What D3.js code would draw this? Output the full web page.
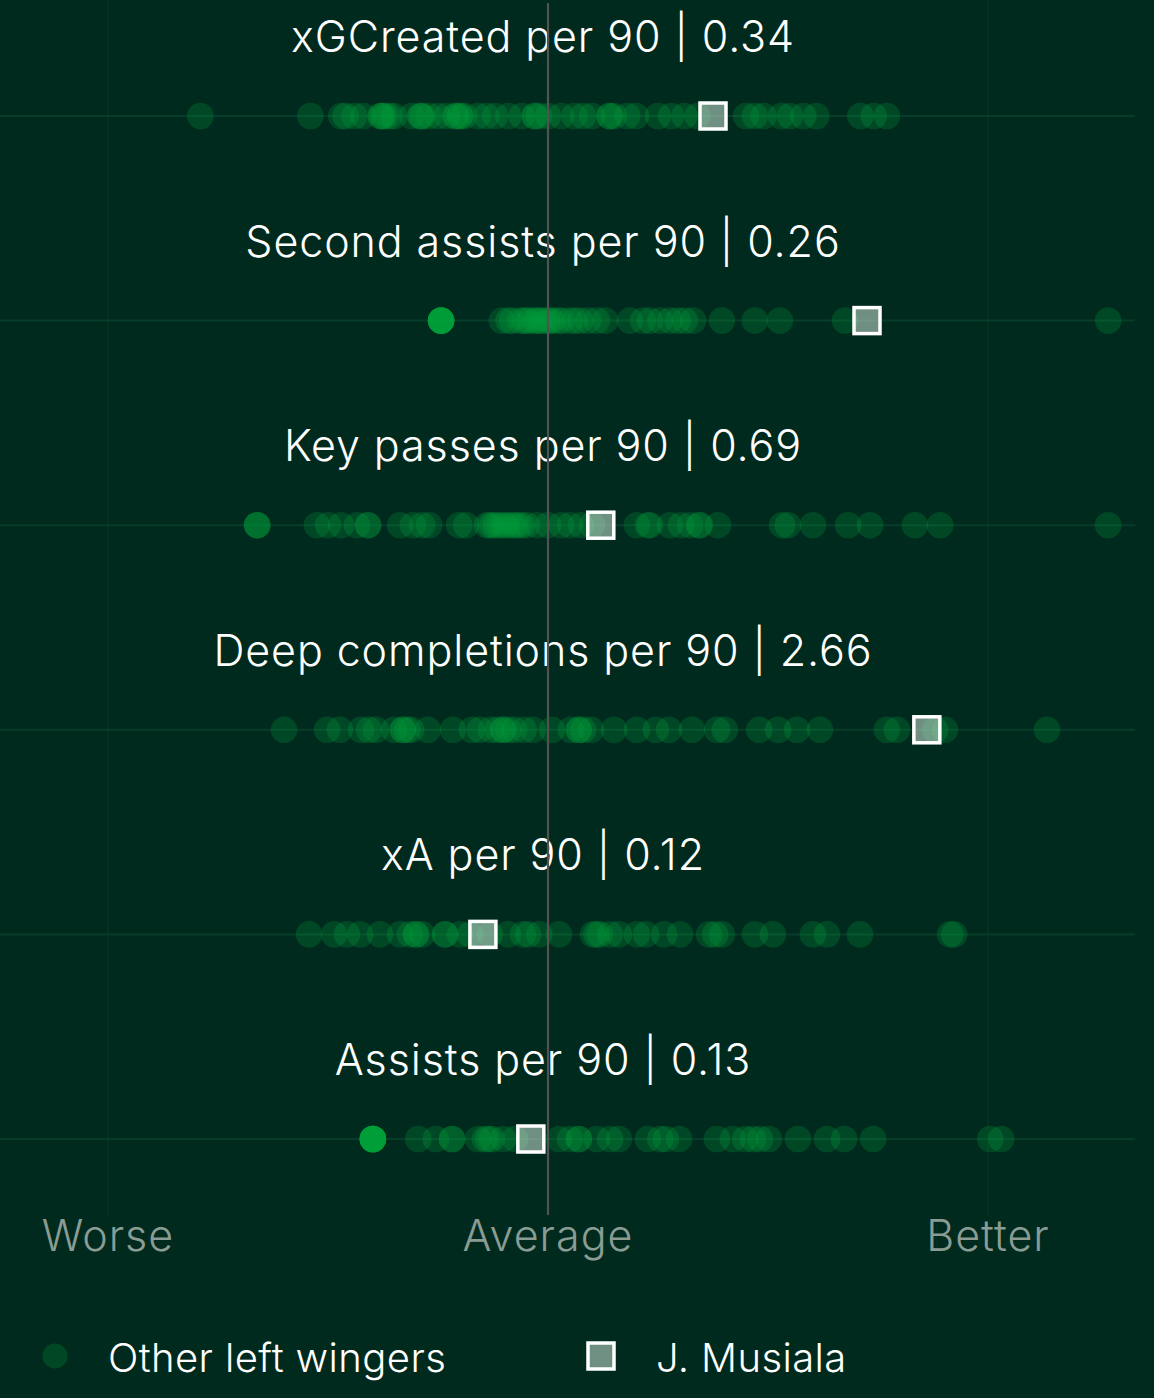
<!DOCTYPE html>
<html>
<head>
<meta charset="utf-8">
<script src="https://cdn.jsdelivr.net/npm/d3@7"></script>
<style>
  html, body { margin: 0; padding: 0; background: #002a1e; }
  svg { display: block; }
</style>
</head>
<body>
<svg id="chart" width="1154" height="1398"></svg>
<script>
// ---- Data (normalised scores: -1 = worse, 0 = average, +1 = better) ----
const metrics = [
  "xGCreated per 90",
  "Second assists per 90",
  "Key passes per 90",
  "Deep completions per 90",
  "xA per 90",
  "Assists per 90"
];
const musialaRaw = ["0.34", "0.26", "0.69", "2.66", "0.12", "0.13"];
const musialaScore = [0.375, 0.725, 0.12, 0.861, -0.148, -0.039];

const xgCreated = [-0.79, -0.54, -0.47, -0.46, -0.44, -0.42, -0.38, -0.38, -0.375, -0.37, -0.36, -0.35, -0.31, -0.29, -0.29, -0.285, -0.27, -0.25, -0.23, -0.21, -0.21, -0.2, -0.2, -0.19, -0.16, -0.14, -0.12, -0.09, -0.06, -0.03, -0.03, -0.02, 0, 0.03, 0.06, 0.08, 0.1, 0.14, 0.14, 0.15, 0.18, 0.2, 0.25, 0.28, 0.31, 0.34, 0.45, 0.47, 0.49, 0.53, 0.55, 0.58, 0.61, 0.71, 0.74, 0.77];
const secondAssists = [-0.243, -0.243, -0.243, -0.243, -0.243, -0.243, -0.243, -0.243, -0.243, -0.243, -0.105, -0.09, -0.082, -0.064, -0.055, -0.048, -0.041, -0.03, -0.025, -0.018, -0.01, -0.002, 0.005, 0.011, 0.023, 0.032, 0.05, 0.061, 0.073, 0.091, 0.111, 0.13, 0.186, 0.216, 0.232, 0.255, 0.277, 0.295, 0.311, 0.33, 0.395, 0.47, 0.527, 0.675, 1.273];
const keyPasses = [-0.661, -0.661, -0.661, -0.525, -0.5, -0.47, -0.434, -0.409, -0.409, -0.336, -0.307, -0.286, -0.27, -0.202, -0.186, -0.139, -0.132, -0.125, -0.118, -0.109, -0.1, -0.093, -0.082, -0.075, -0.068, -0.059, -0.048, -0.025, 0, 0.03, 0.05, 0.075, 0.1, 0.202, 0.227, 0.232, 0.277, 0.302, 0.323, 0.343, 0.345, 0.386, 0.532, 0.545, 0.602, 0.682, 0.732, 0.834, 0.891, 1.273];
const deepCompletions = [-0.6, -0.502, -0.473, -0.425, -0.407, -0.391, -0.35, -0.33, -0.33, -0.32, -0.311, -0.273, -0.216, -0.173, -0.155, -0.13, -0.115, -0.102, -0.102, -0.09, -0.077, -0.055, -0.034, 0.009, 0.052, 0.07, 0.07, 0.08, 0.098, 0.15, 0.202, 0.245, 0.275, 0.327, 0.384, 0.402, 0.48, 0.523, 0.566, 0.618, 0.77, 0.793, 0.88, 0.902, 1.134];
const xA = [-0.543, -0.486, -0.457, -0.427, -0.382, -0.336, -0.314, -0.3, -0.3, -0.286, -0.234, -0.234, -0.2, -0.177, -0.132, -0.091, -0.057, -0.045, -0.02, 0.025, 0.102, 0.11, 0.118, 0.141, 0.161, 0.202, 0.223, 0.264, 0.3, 0.366, 0.38, 0.395, 0.47, 0.511, 0.602, 0.634, 0.709, 0.914, 0.923];
const assists = [-0.398, -0.398, -0.398, -0.398, -0.398, -0.398, -0.398, -0.398, -0.398, -0.398, -0.398, -0.398, -0.295, -0.255, -0.218, -0.218, -0.159, -0.143, -0.135, -0.127, -0.102, -0.075, 0.025, 0.05, 0.07, 0.07, 0.111, 0.141, 0.161, 0.227, 0.255, 0.268, 0.298, 0.384, 0.42, 0.448, 0.466, 0.482, 0.502, 0.568, 0.634, 0.673, 0.739, 1.005, 1.03];

const seriesValues = [xgCreated, secondAssists, keyPasses, deepCompletions, xA, assists];
const axisLabels = ["Worse", "Average", "Better"];
const axisTicks = [-1, 0, 1];
const legendLabels = ["Other left wingers", "J. Musiala"];

// ---- Drawing ----
const svg = d3.select("#chart");
const W = 1154, H = 1398;
const FONT = "Inter, 'Noto Sans', sans-serif";

svg.append("rect").attr("width", W).attr("height", H).attr("fill", "#002a1e");

const x = d3.scaleLinear().domain([-1, 1]).range([108, 988]);
const y = d3.scalePoint().domain(metrics).range([116, 1139]);

// faint vertical grid at worse / better
svg.append("g").selectAll("line")
  .data([-1, 1]).join("line")
  .attr("x1", d => x(d)).attr("x2", d => x(d))
  .attr("y1", 0).attr("y2", 1215)
  .attr("stroke", "#03311f").attr("stroke-width", 2);

// row baselines
svg.append("g").selectAll("line")
  .data(metrics).join("line")
  .attr("x1", 0).attr("x2", 1135)
  .attr("y1", d => y(d)).attr("y2", d => y(d))
  .attr("stroke", "#073d28").attr("stroke-width", 2);

// other players' dots
const rows = svg.append("g");
metrics.forEach((m, i) => {
  rows.append("g").selectAll("circle")
    .data(seriesValues[i]).join("circle")
    .attr("cx", d => x(d))
    .attr("cy", y(m))
    .attr("r", 13.3)
    .attr("fill", "#00a33a")
    .attr("fill-opacity", 0.25);
});

// Musiala squares
svg.append("g").selectAll("rect")
  .data(metrics).join("rect")
  .attr("x", (d, i) => x(musialaScore[i]) - 13)
  .attr("y", d => y(d) - 13)
  .attr("width", 26).attr("height", 26)
  .attr("fill", "rgba(215,235,225,0.52)")
  .attr("stroke", "#ffffff").attr("stroke-width", 3.5);

// titles
svg.append("g").selectAll("text")
  .data(metrics).join("text")
  .attr("x", 543)
  .attr("y", d => y(d) - 64)
  .attr("text-anchor", "middle")
  .attr("font-family", FONT)
  .attr("font-weight", 300)
  .attr("font-size", 43)
  .attr("letter-spacing", 0.9)
  .attr("fill", "#ffffff")
  .text((d, i) => `${d} | ${musialaRaw[i]}`);

// centre (average) line
svg.append("line")
  .attr("x1", x(0)).attr("x2", x(0))
  .attr("y1", 3).attr("y2", 1215)
  .attr("stroke", "#525252").attr("stroke-width", 2.2);

// axis labels
svg.append("g").selectAll("text")
  .data(axisLabels).join("text")
  .attr("x", (d, i) => x(axisTicks[i]))
  .attr("y", 1251)
  .attr("text-anchor", "middle")
  .attr("font-family", FONT)
  .attr("font-weight", 300)
  .attr("font-size", 43)
  .attr("letter-spacing", 1)
  .attr("fill", "#8a9c93")
  .text(d => d);

// legend
const lg = svg.append("g");
lg.append("circle").attr("cx", 55).attr("cy", 1356).attr("r", 12.5)
  .attr("fill", "#00a33a").attr("fill-opacity", 0.25);
lg.append("text").attr("x", 108).attr("y", 1372)
  .attr("font-family", FONT).attr("font-weight", 300).attr("font-size", 40)
  .attr("letter-spacing", 0.4)
  .attr("fill", "#ffffff").text(legendLabels[0]);
lg.append("rect").attr("x", 588).attr("y", 1343).attr("width", 26).attr("height", 26)
  .attr("fill", "rgba(215,235,225,0.52)")
  .attr("stroke", "#ffffff").attr("stroke-width", 3.5);
lg.append("text").attr("x", 656).attr("y", 1372)
  .attr("font-family", FONT).attr("font-weight", 300).attr("font-size", 40)
  .attr("letter-spacing", 0.4)
  .attr("fill", "#ffffff").text(legendLabels[1]);
</script>
</body>
</html>
